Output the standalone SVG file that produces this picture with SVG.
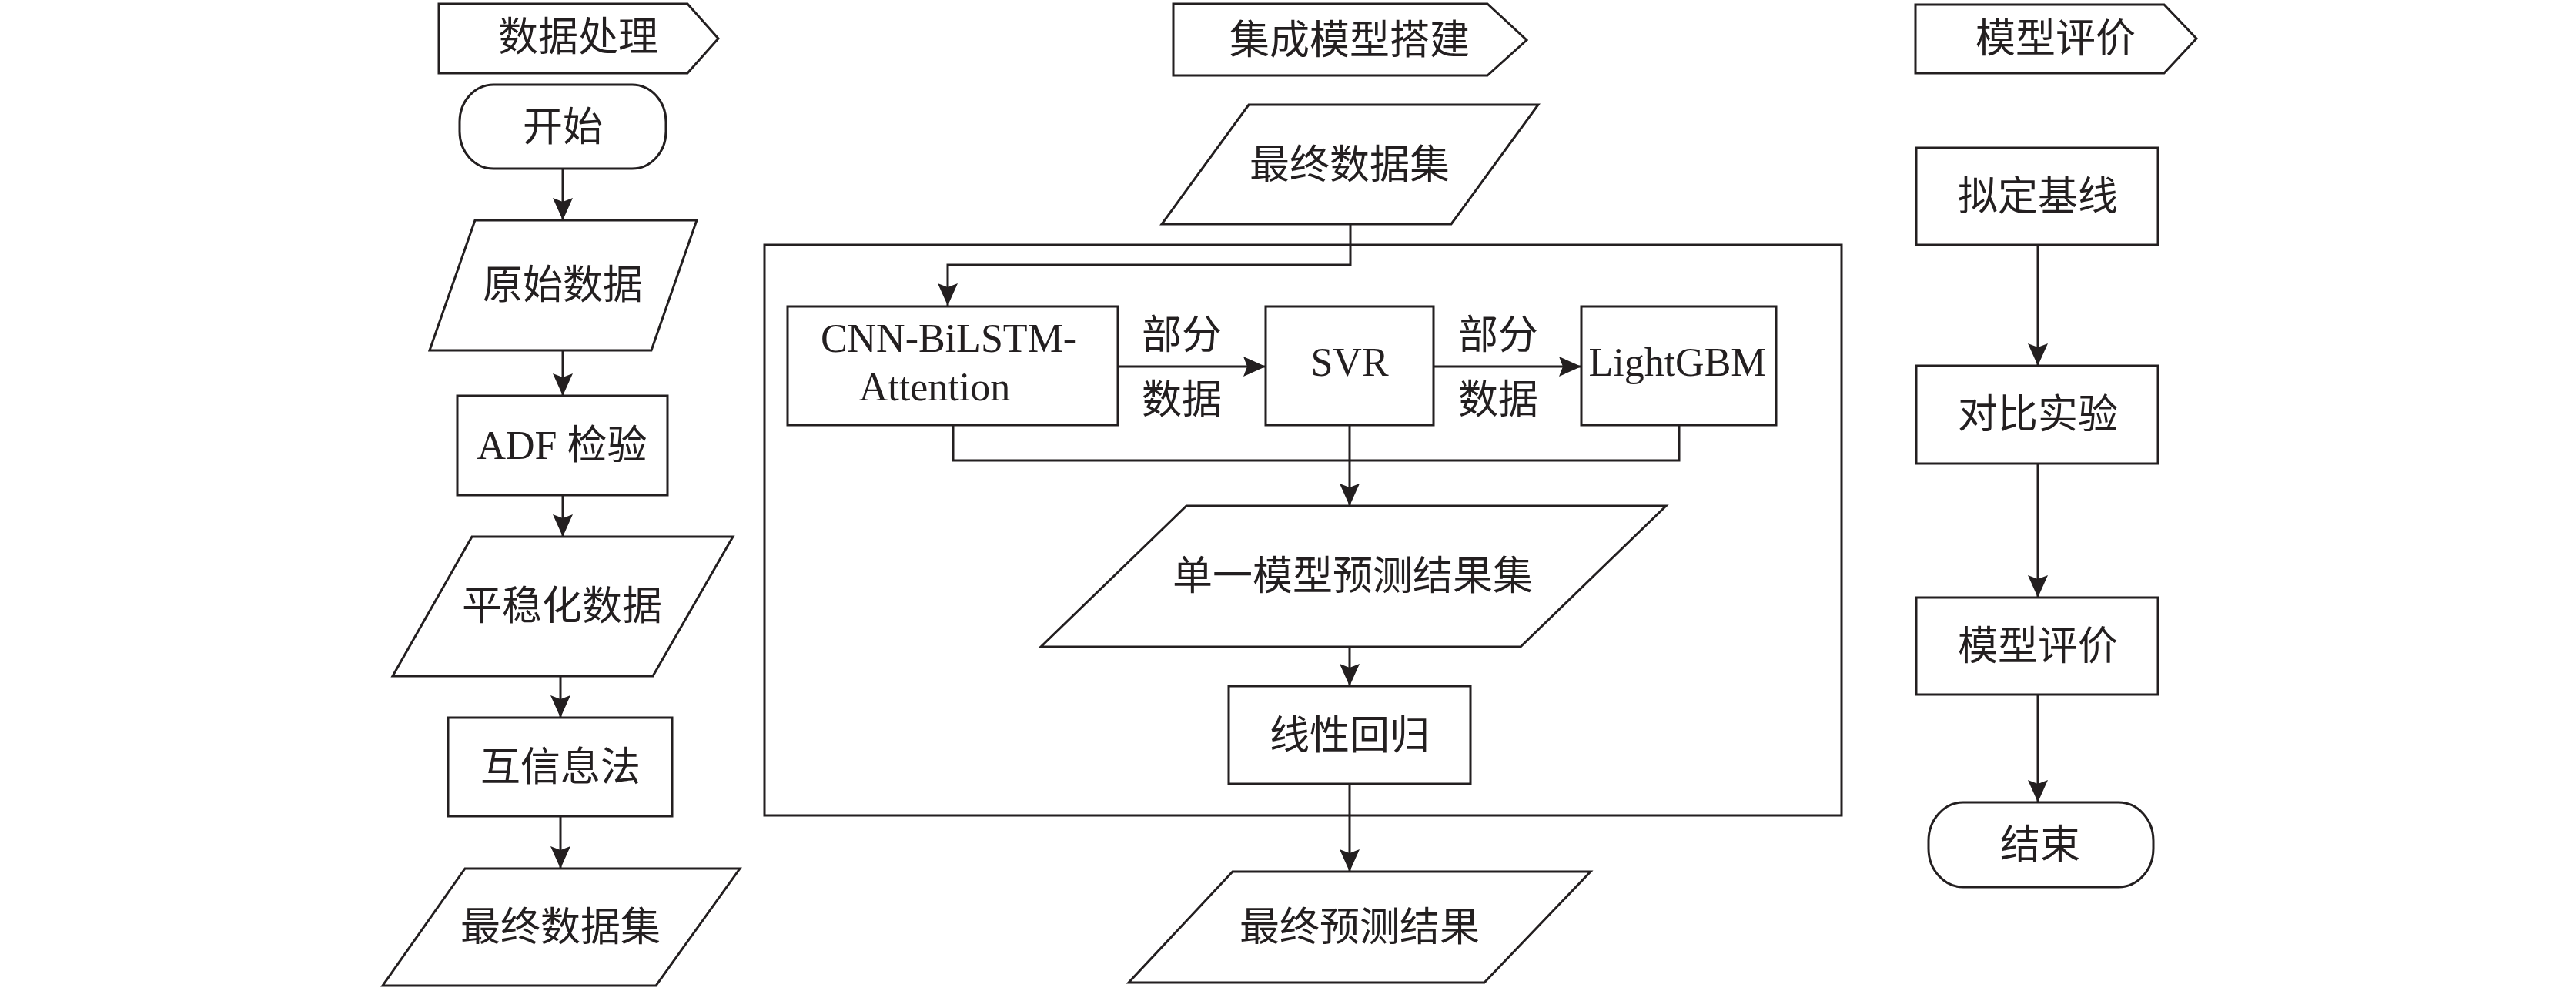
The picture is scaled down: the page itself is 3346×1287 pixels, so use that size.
<svg xmlns="http://www.w3.org/2000/svg" width="3346" height="1287" viewBox="0 0 3346 1287">
<style>
.s{fill:#fff;stroke:#231f20;stroke-width:3;stroke-linejoin:miter}
.c{fill:none;stroke:#231f20;stroke-width:3}
.t{font-family:"Liberation Serif","Noto Sans CJK SC",serif;font-size:52px;fill:#231f20;text-anchor:middle;dominant-baseline:central}
.l{font-family:"Liberation Serif","Noto Sans CJK SC",serif;font-size:52px;fill:#231f20;text-anchor:middle}
</style>
<defs>
<marker id="arr" viewBox="0 0 29 26" refX="29" refY="13" markerWidth="29" markerHeight="26" markerUnits="userSpaceOnUse" orient="auto">
<path d="M0,0 L29,13 L0,26 L5,13 Z" fill="#231f20"/>
</marker>
</defs>
<rect width="3346" height="1287" fill="#fff"/>

<g id="container"><rect class="s" x="993" y="318" width="1399" height="741" fill="none"/></g>

<g id="connectors">
<path class="c" d="M731,219 V286" marker-end="url(#arr)"/>
<path class="c" d="M731,455 V514" marker-end="url(#arr)"/>
<path class="c" d="M731,643 V697" marker-end="url(#arr)"/>
<path class="c" d="M728,878 V932" marker-end="url(#arr)"/>
<path class="c" d="M728,1060 V1128" marker-end="url(#arr)"/>
<path class="c" d="M1754,291 V344 H1231 V397" marker-end="url(#arr)"/>
<path class="c" d="M1452,476 H1644" marker-end="url(#arr)"/>
<path class="c" d="M1862,476 H2054" marker-end="url(#arr)"/>
<path class="c" d="M1238,552 V598 H2181 V552"/>
<path class="c" d="M1753,552 V657" marker-end="url(#arr)"/>
<path class="c" d="M1753,840 V891" marker-end="url(#arr)"/>
<path class="c" d="M1753,1018 V1132" marker-end="url(#arr)"/>
<path class="c" d="M2647,318 V475" marker-end="url(#arr)"/>
<path class="c" d="M2647,602 V776" marker-end="url(#arr)"/>
<path class="c" d="M2647,902 V1042" marker-end="url(#arr)"/>
<text class="t" x="1535" y="435">部分</text>
<text class="t" x="1535" y="519">数据</text>
<text class="t" x="1946" y="435">部分</text>
<text class="t" x="1946" y="519">数据</text>
</g>

<g id="tag1"><polygon class="s" points="570,5 893,5 933,50 893,95 570,95"/><text class="t" x="751" y="48">数据处理</text></g>
<g id="start"><rect class="s" x="597" y="110" width="268" height="109" rx="44" ry="48"/><text class="t" x="731" y="165">开始</text></g>
<g id="raw"><polygon class="s" points="617,286 905,286 846,455 558,455"/><text class="t" x="731" y="370">原始数据</text></g>
<g id="adf"><rect class="s" x="594" y="514" width="273" height="129"/><text class="t" x="730" y="578">ADF 检验</text></g>
<g id="stable"><polygon class="s" points="613,697 952,697 848,878 510,878"/><text class="t" x="730" y="787">平稳化数据</text></g>
<g id="mi"><rect class="s" x="582" y="932" width="291" height="128"/><text class="t" x="728" y="996">互信息法</text></g>
<g id="final1"><polygon class="s" points="604,1128 961,1128 852,1280 497,1280"/><text class="t" x="728" y="1204">最终数据集</text></g>

<g id="tag2"><polygon class="s" points="1524,5 1932,5 1983,52 1932,98 1524,98"/><text class="t" x="1753" y="52">集成模型搭建</text></g>
<g id="final2"><polygon class="s" points="1622,136 1998,136 1885,291 1509,291"/><text class="t" x="1753" y="214">最终数据集</text></g>
<g id="cnn"><rect class="s" x="1023" y="398" width="429" height="154"/><text class="l" x="1232" y="457">CNN-BiLSTM-</text><text class="l" x="1214" y="520">Attention</text></g>
<g id="svr"><rect class="s" x="1644" y="398" width="218" height="154"/><text class="l" x="1753" y="488">SVR</text></g>
<g id="lgbm"><rect class="s" x="2054" y="398" width="253" height="154"/><text class="l" x="2179" y="488">LightGBM</text></g>
<g id="single"><polygon class="s" points="1541,657 2164,657 1975,840 1352,840"/><text class="t" x="1757" y="748">单一模型预测结果集</text></g>
<g id="lr"><rect class="s" x="1596" y="891" width="314" height="127"/><text class="t" x="1753" y="955">线性回归</text></g>
<g id="finalpred"><polygon class="s" points="1601,1132 2066,1132 1928,1276 1466,1276"/><text class="t" x="1766" y="1204">最终预测结果</text></g>

<g id="tag3"><polygon class="s" points="2488,6 2811,6 2853,50 2811,95 2488,95"/><text class="t" x="2670" y="50">模型评价</text></g>
<g id="baseline"><rect class="s" x="2489" y="192" width="314" height="126"/><text class="t" x="2647" y="255">拟定基线</text></g>
<g id="compare"><rect class="s" x="2489" y="475" width="314" height="127"/><text class="t" x="2647" y="538">对比实验</text></g>
<g id="eval"><rect class="s" x="2489" y="776" width="314" height="126"/><text class="t" x="2647" y="839">模型评价</text></g>
<g id="end"><rect class="s" x="2505" y="1042" width="292" height="110" rx="45" ry="50"/><text class="t" x="2650" y="1097">结束</text></g>
</svg>
